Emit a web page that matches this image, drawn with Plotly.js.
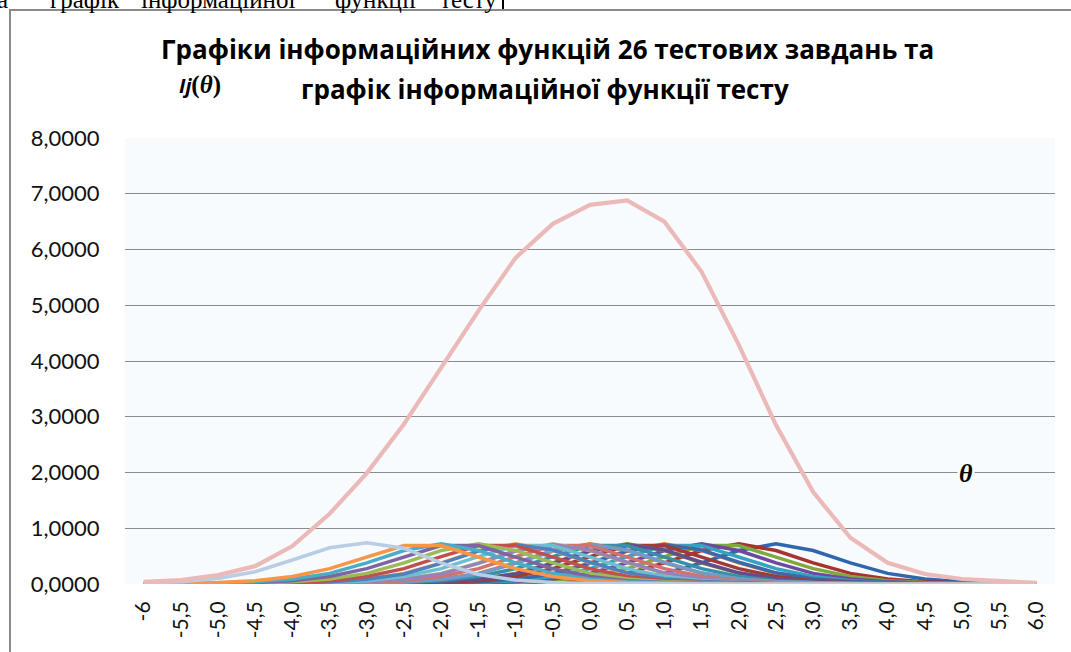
<!DOCTYPE html>
<html><head><meta charset="utf-8">
<script src="https://cdn.plot.ly/plotly-3.0.1.min.js"></script>
<style>html,body{margin:0;padding:0;background:#fff;}#chart{width:1071px;height:652px;}</style>
</head><body><div id="chart"></div>
<script>
// θ categories (x axis tick labels)
const thetaLabels = ["-6","-5,5","-5,0","-4,5","-4,0","-3,5","-3,0","-2,5","-2,0","-1,5","-1,0","-0,5","0,0","0,5","1,0","1,5","2,0","2,5","3,0","3,5","4,0","4,5","5,0","5,5","6,0"];
const yTicks = [0,1,2,3,4,5,6,7,8];

// item information functions Ij(θ)
const item01 = [0,0,0,0,0,0,0,0,0.001,0.003,0.007,0.017,0.04,0.09,0.19,0.38,0.60,0.72,0.60,0.38,0.19,0.09,0.04,0.017,0.007];
const item02 = [0,0,0,0,0,0,0,0.001,0.003,0.007,0.017,0.04,0.09,0.19,0.38,0.60,0.72,0.60,0.38,0.19,0.09,0.04,0.017,0.007,0.003];
const item03 = [0,0,0,0,0,0,0.001,0.002,0.005,0.012,0.026,0.06,0.134,0.275,0.49,0.69,0.69,0.49,0.275,0.134,0.06,0.026,0.012,0.005,0.002];
const item04 = [0,0,0,0,0,0,0.001,0.003,0.007,0.017,0.04,0.09,0.19,0.38,0.60,0.72,0.60,0.38,0.19,0.09,0.04,0.017,0.007,0.003,0.001];
const item05 = [0,0,0,0,0,0.001,0.002,0.005,0.012,0.026,0.06,0.134,0.275,0.49,0.69,0.69,0.49,0.275,0.134,0.06,0.026,0.012,0.005,0.002,0.001];
const item06 = [0,0,0,0,0,0.001,0.003,0.007,0.017,0.04,0.09,0.19,0.38,0.60,0.72,0.60,0.38,0.19,0.09,0.04,0.017,0.007,0.003,0.001,0];
const item07 = [0,0,0,0,0,0.001,0.002,0.006,0.015,0.036,0.085,0.18,0.37,0.59,0.71,0.61,0.39,0.20,0.095,0.043,0.019,0.008,0.003,0.001,0];
const item08 = [0,0,0,0,0.001,0.002,0.005,0.012,0.026,0.06,0.134,0.275,0.49,0.69,0.69,0.49,0.275,0.134,0.06,0.026,0.012,0.005,0.002,0.001,0];
const item09 = [0,0,0,0,0.001,0.003,0.007,0.017,0.04,0.09,0.19,0.38,0.60,0.72,0.60,0.38,0.19,0.09,0.04,0.017,0.007,0.003,0.001,0,0];
const item10 = [0,0,0,0,0.001,0.002,0.006,0.015,0.036,0.085,0.18,0.37,0.59,0.71,0.61,0.39,0.20,0.095,0.043,0.019,0.008,0.003,0.001,0,0];
const item11 = [0,0,0,0.001,0.002,0.005,0.012,0.026,0.06,0.134,0.275,0.49,0.69,0.69,0.49,0.275,0.134,0.06,0.026,0.012,0.005,0.002,0.001,0,0];
const item12 = [0,0,0,0.001,0.003,0.007,0.017,0.04,0.09,0.19,0.38,0.60,0.72,0.60,0.38,0.19,0.09,0.04,0.017,0.007,0.003,0.001,0,0,0];
const item13 = [0,0,0,0.001,0.002,0.006,0.015,0.036,0.085,0.18,0.37,0.59,0.71,0.61,0.39,0.20,0.095,0.043,0.019,0.008,0.003,0.001,0,0,0];
const item14 = [0,0,0.001,0.002,0.005,0.012,0.026,0.06,0.134,0.275,0.49,0.69,0.69,0.49,0.275,0.134,0.06,0.026,0.012,0.005,0.002,0.001,0,0,0];
const item15 = [0,0,0.001,0.003,0.007,0.017,0.04,0.09,0.19,0.38,0.60,0.72,0.60,0.38,0.19,0.09,0.04,0.017,0.007,0.003,0.001,0,0,0,0];
const item16 = [0,0,0.001,0.002,0.006,0.015,0.036,0.085,0.18,0.37,0.59,0.71,0.61,0.39,0.20,0.095,0.043,0.019,0.008,0.003,0.001,0,0,0,0];
const item17 = [0,0.001,0.002,0.005,0.012,0.026,0.06,0.134,0.275,0.49,0.69,0.69,0.49,0.275,0.134,0.06,0.026,0.012,0.005,0.002,0.001,0,0,0,0];
const item18 = [0,0.001,0.003,0.007,0.017,0.04,0.09,0.19,0.38,0.60,0.72,0.60,0.38,0.19,0.09,0.04,0.017,0.007,0.003,0.001,0,0,0,0,0];
const item19 = [0,0.001,0.002,0.006,0.015,0.036,0.085,0.18,0.37,0.59,0.71,0.61,0.39,0.20,0.095,0.043,0.019,0.008,0.003,0.001,0,0,0,0,0];
const item20 = [0.001,0.002,0.005,0.012,0.026,0.06,0.134,0.275,0.49,0.69,0.69,0.49,0.275,0.134,0.06,0.026,0.012,0.005,0.002,0.001,0,0,0,0,0];
const item21 = [0.001,0.003,0.007,0.017,0.04,0.09,0.19,0.38,0.60,0.72,0.60,0.38,0.19,0.09,0.04,0.017,0.007,0.003,0.001,0,0,0,0,0,0];
const item22 = [0.002,0.005,0.012,0.026,0.06,0.134,0.275,0.49,0.69,0.69,0.49,0.275,0.134,0.06,0.026,0.012,0.005,0.002,0.001,0,0,0,0,0,0];
const item23 = [0.003,0.007,0.017,0.04,0.09,0.19,0.38,0.60,0.72,0.60,0.38,0.19,0.09,0.04,0.017,0.007,0.003,0.001,0,0,0,0,0,0,0];
const item24 = [0.005,0.012,0.026,0.06,0.134,0.275,0.49,0.69,0.69,0.49,0.275,0.134,0.06,0.026,0.012,0.005,0.002,0.001,0,0,0,0,0,0,0];
const item25 = [0.02,0.04,0.10,0.22,0.43,0.65,0.74,0.64,0.38,0.17,0.07,0.025,0.01,0.004,0.002,0.001,0,0,0,0,0,0,0,0,0];

// test information function I(θ)
const testInfo = [0.04,0.07,0.16,0.32,0.68,1.26,1.99,2.87,3.88,4.90,5.85,6.46,6.80,6.88,6.50,5.60,4.29,2.85,1.65,0.83,0.38,0.18,0.09,0.05,0.02];

const items = [item01,item02,item03,item04,item05,item06,item07,item08,item09,item10,item11,item12,item13,item14,item15,item16,item17,item18,item19,item20,item21,item22,item23,item24,item25];
const itemColors = ["#2F66AE","#A8322F","#7FA83F","#6D4A9E","#34A2C0","#F2853A",
  "#3D6AA6","#9E3B38","#7A9A40","#654C8A","#3590A8","#D9772B",
  "#729ACA","#CD7371","#AFC97A","#9983B5","#6FBDD1","#F9AB6B",
  "#4F81BD","#C0504D","#9BBB59","#8064A2","#4BACC6","#F79646","#B9CDE5"];
const testColor = "#EBB9B8";

const traces = items.map((vals, k) => ({
  type: "scatter", mode: "lines", x: thetaLabels, y: vals,
  line: {color: itemColors[k], width: 3.5}, hoverinfo: "skip", name: "Item " + (k + 1)
}));
traces.push({type: "scatter", mode: "lines", x: thetaLabels, y: testInfo,
  line: {color: testColor, width: 4.2}, hoverinfo: "skip", name: "Test"});

// pixel helpers for layout decorations
const M = {l: 125, r: 16, t: 138, b: 68};
const W = 1071 - M.l - M.r, H = 652 - M.t - M.b;
const px = v => (v - M.l) / W;
const py = v => (652 - M.b - v) / H;

const serifTop = {family: "Liberation Serif, Times New Roman, serif", size: 25, color: "#000"};
const topWords = [["а", 3], ["графік", 85], ["інформаційної", 218], ["функції", 375], ["тесту", 468]];

const titleFont = {family: "Open Sans, Noto Sans, sans-serif", size: 26, color: "#000"};
const annotations = [
  {text: "<b>Графіки інформаційних функцій 26 тестових завдань та</b>", x: px(547), y: py(49), xanchor: "center", yanchor: "middle", font: titleFont},
  {text: "<b>графік інформаційної функції тесту</b>", x: px(545), y: py(89), xanchor: "center", yanchor: "middle", font: titleFont},
  {text: "<b><i>Ij</i></b><span style=\"font-family:'Liberation Serif';font-size:25px\"><b>(<i>θ</i>)</b></span>", x: px(200), y: py(85), xanchor: "center", yanchor: "middle",
   font: {family: "Open Sans, sans-serif", size: 20, color: "#000"}},
  {text: "<b><i>θ</i></b>", x: px(966), y: py(473), xanchor: "center", yanchor: "middle", bgcolor: "#F7FBFD",
   font: {family: "Liberation Serif, serif", size: 26, color: "#000"}}
].concat(topWords.map(w => ({text: w[0], x: px(w[1]), y: py(-1), xanchor: "center", yanchor: "middle", font: serifTop})));
annotations.forEach(a => { a.xref = "paper"; a.yref = "paper"; a.showarrow = false; });

const layout = {
  width: 1071, height: 652,
  margin: M,
  paper_bgcolor: "#ffffff",
  plot_bgcolor: "#F7FBFD",
  showlegend: false,
  separators: ", ",
  xaxis: {
    type: "category", range: [-0.5, thetaLabels.length - 0.5],
    tickangle: -90, showgrid: false, zeroline: false, showline: false,
    ticks: "outside", ticklen: 8, tickcolor: "rgba(0,0,0,0)",
    tickfont: {family: "Lato, DejaVu Sans, sans-serif", size: 21, color: "#111"}
  },
  yaxis: {
    range: [0, 8], tickvals: yTicks, tickformat: ".4f",
    showgrid: true, gridcolor: "#8C8C8C", gridwidth: 1, zeroline: false, showline: false,
    ticks: "outside", ticklen: 20, tickcolor: "rgba(0,0,0,0)",
    tickfont: {family: "Lato, DejaVu Sans, sans-serif", size: 22, color: "#111"}
  },
  annotations: annotations,
  shapes: [
    {type: "rect", xref: "paper", yref: "paper", x0: px(10), x1: px(1085), y0: py(10), y1: py(700),
     line: {color: "#8A8A8A", width: 2}, fillcolor: "rgba(0,0,0,0)", layer: "above"},
    {type: "line", xref: "paper", yref: "paper", x0: px(503), x1: px(503), y0: py(0), y1: py(9),
     line: {color: "#000", width: 2}}
  ]
};

Plotly.newPlot("chart", traces, layout, {staticPlot: true, displayModeBar: false});
</script></body></html>
